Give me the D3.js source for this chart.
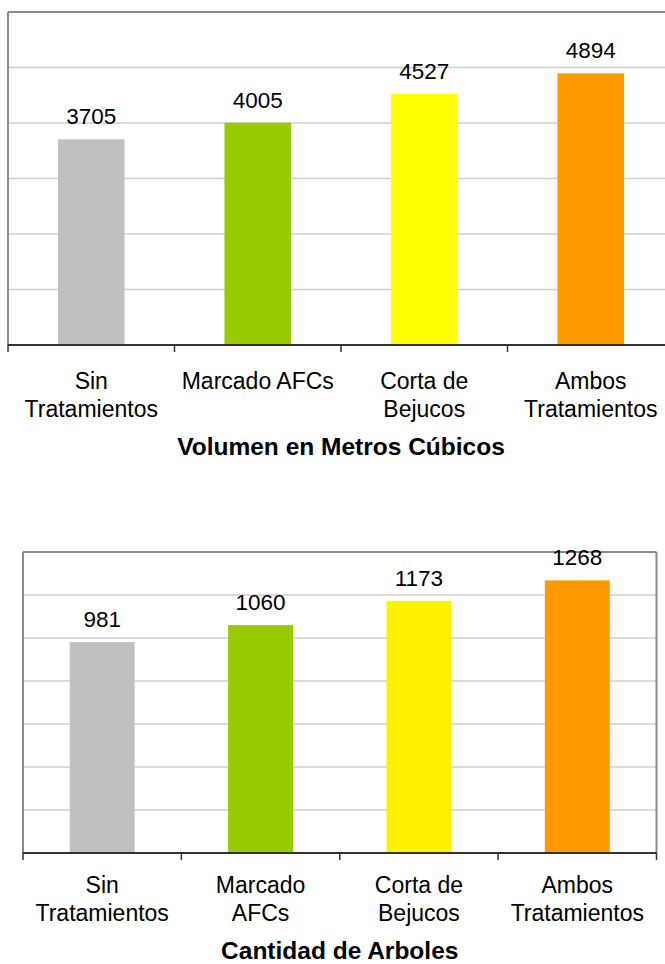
<!DOCTYPE html>
<html>
<head>
<meta charset="utf-8">
<script src="https://cdn.jsdelivr.net/npm/d3@7"></script>
<style>
  html, body { margin: 0; padding: 0; background: #fff; }
  svg { display: block; }
  text { font-family: "Liberation Sans", Arial, sans-serif; fill: #000; }
</style>
</head>
<body>
<script>
// ---- data ----
const categoriesVolumen = ["Sin\nTratamientos", "Marcado AFCs", "Corta de\nBejucos", "Ambos\nTratamientos"];
const categoriesArboles = ["Sin\nTratamientos", "Marcado\nAFCs", "Corta de\nBejucos", "Ambos\nTratamientos"];
const valuesVolumen = [3705, 4005, 4527, 4894];
const valuesArboles = [981, 1060, 1173, 1268];
const colorsVolumen = ["#C0C0C0", "#99CC00", "#FFFF00", "#FF9900"];
const colorsArboles = ["#C0C0C0", "#99CC00", "#FFF200", "#FF9900"];
const titleVolumen = "Volumen en Metros Cúbicos";
const titleArboles = "Cantidad de Arboles";

const W = 665, H = 964;
const svg = d3.select("body").append("svg").attr("width", W).attr("height", H);

function drawChart(cfg) {
  const g = svg.append("g");
  const x = d3.scaleBand()
    .domain(cfg.categories)
    .range([cfg.left, cfg.right])
    .paddingInner(cfg.padInner)
    .paddingOuter(cfg.padInner / 2);
  const y = d3.scaleLinear().domain([0, cfg.max]).range([cfg.bottom, cfg.top]);
  const step = x.step();

  // gridlines
  const grid = d3.range(cfg.tick, cfg.max, cfg.tick);
  g.selectAll(".grid").data(grid).enter().append("line")
    .attr("x1", cfg.left).attr("x2", cfg.gridRight)
    .attr("y1", d => y(d)).attr("y2", d => y(d))
    .attr("stroke", "#CFCFCF").attr("stroke-width", 1.5);

  // frame (top, left, optional right)
  g.append("line").attr("x1", cfg.left).attr("x2", cfg.gridRight)
    .attr("y1", y(cfg.max)).attr("y2", y(cfg.max))
    .attr("stroke", "#8A8A8A").attr("stroke-width", 2);
  g.append("line").attr("x1", cfg.left).attr("x2", cfg.left)
    .attr("y1", y(cfg.max)).attr("y2", y(0))
    .attr("stroke", "#8A8A8A").attr("stroke-width", 2);
  if (cfg.rightBorder) {
    g.append("line").attr("x1", cfg.right).attr("x2", cfg.right)
      .attr("y1", y(cfg.max)).attr("y2", y(0))
      .attr("stroke", "#8A8A8A").attr("stroke-width", 2);
  }

  // bars
  g.selectAll(".bar").data(cfg.values).enter().append("rect")
    .attr("x", (d, i) => x(cfg.categories[i]))
    .attr("width", x.bandwidth())
    .attr("y", d => y(d))
    .attr("height", d => y(0) - y(d))
    .attr("fill", (d, i) => cfg.colors[i]);

  // value labels
  g.selectAll(".val").data(cfg.values).enter().append("text")
    .attr("x", (d, i) => x(cfg.categories[i]) + x.bandwidth() / 2)
    .attr("y", d => y(d) - 15)
    .attr("text-anchor", "middle")
    .attr("font-size", 22.5)
    .text(d => d);

  // x axis baseline and ticks
  g.append("line").attr("x1", cfg.left).attr("x2", cfg.gridRight)
    .attr("y1", y(0)).attr("y2", y(0))
    .attr("stroke", "#333").attr("stroke-width", 2);
  const tickIdx = d3.range(0, cfg.categories.length + 1);
  g.selectAll(".tick").data(tickIdx).enter().append("line")
    .attr("x1", i => cfg.left + i * step).attr("x2", i => cfg.left + i * step)
    .attr("y1", y(0)).attr("y2", y(0) + 7)
    .attr("stroke", "#333").attr("stroke-width", 1.5);

  // category labels
  const cat = g.selectAll(".cat").data(cfg.categories).enter().append("text")
    .attr("text-anchor", "middle")
    .attr("font-size", 23);
  cat.each(function(d) {
    const t = d3.select(this);
    const cx = x(d) + x.bandwidth() / 2;
    d.split("\n").forEach((line, k) => {
      t.append("tspan").attr("x", cx).attr("y", y(0) + cfg.labelOffset + k * 28).text(line);
    });
  });

  // title
  g.append("text")
    .attr("x", (cfg.left + cfg.right) / 2)
    .attr("y", cfg.titleY)
    .attr("text-anchor", "middle")
    .attr("font-size", 24.5)
    .attr("font-weight", "bold")
    .text(cfg.title);
}

drawChart({
  categories: categoriesVolumen, values: valuesVolumen, colors: colorsVolumen, title: titleVolumen,
  left: 8, right: 674, gridRight: 665, top: 12, bottom: 345, max: 6000, tick: 1000,
  padInner: 0.6, rightBorder: false, labelOffset: 44, titleY: 455
});

drawChart({
  categories: categoriesArboles, values: valuesArboles, colors: colorsArboles, title: titleArboles,
  left: 23, right: 656.5, gridRight: 656.5, top: 552, bottom: 853, max: 1400, tick: 200,
  padInner: 0.59, rightBorder: true, labelOffset: 40, titleY: 959
});
</script>
</body>
</html>
